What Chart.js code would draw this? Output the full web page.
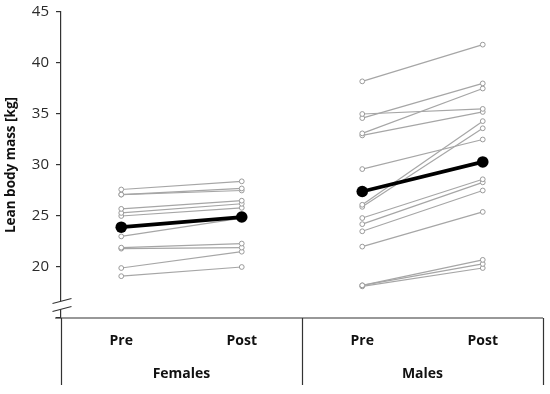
<!DOCTYPE html>
<html>
<head>
<meta charset="utf-8">
<script src="https://cdn.jsdelivr.net/npm/chart.js@4.4.1/dist/chart.umd.min.js"></script>
<style>
  html, body { margin: 0; padding: 0; background: #fff; }
  #wrap { width: 550px; height: 394px; }
</style>
</head>
<body>
<div id="wrap"><canvas id="lbm"></canvas></div>
<script>
// x categories (positions 0.5, 1.5, 2.5, 3.5 on a 0-4 scale)
const categories = ['Pre', 'Post', 'Pre', 'Post'];
const groups = ['Females', 'Males'];
const yTicks = [20, 25, 30, 35, 40, 45];

// individual subjects, lean body mass in kg
const femalePre  = [27.6, 27.1, 27.1, 25.7, 25.3, 25.0, 23.0, 21.9, 21.8, 19.9, 19.1];
const femalePost = [28.4, 27.7, 27.5, 26.5, 26.2, 25.8, 24.8, 22.3, 21.9, 21.5, 20.0];
const malePre  = [38.2, 35.0, 34.6, 33.1, 32.9, 29.6, 26.1, 25.9, 24.8, 24.2, 23.5, 22.0, 18.2, 18.2, 18.1];
const malePost = [41.8, 35.5, 38.0, 37.5, 35.2, 32.5, 34.3, 33.6, 28.6, 28.3, 27.5, 25.4, 20.7, 20.3, 19.9];

// group means [females, males]
const meanPre  = [23.9, 27.4];
const meanPost = [24.9, 30.3];

const textCol = '#2b2b2b';
const font = '"Open Sans", "DejaVu Sans", sans-serif';

function pair(xPre, pre, post) {
    return [{ x: xPre, y: pre }, { x: xPre + 1, y: post }];
}

const datasets = [];

// means first so they are drawn on top
meanPre.forEach((v, i) => {
    datasets.push({
        data: pair(i * 2 + 0.5, v, meanPost[i]),
        borderColor: '#000',
        backgroundColor: '#000',
        borderWidth: 3.8,
        pointRadius: 5.8,
        pointBorderWidth: 0
    });
});

function addSubjects(pre, post, xPre) {
    pre.forEach((v, i) => {
        datasets.push({
            data: pair(xPre, v, post[i]),
            borderColor: '#a6a6a6',
            backgroundColor: '#fff',
            borderWidth: 1.2,
            pointRadius: 2.4,
            pointBorderWidth: 1,
            pointBorderColor: '#9a9a9a'
        });
    });
}
addSubjects(femalePre, femalePost, 0.5);
addSubjects(malePre, malePost, 2.5);

// bottom table, axis extension and the axis break
const tablePlugin = {
    id: 'tablePlugin',
    afterDraw(chart) {
        const ctx = chart.ctx;
        const x = chart.scales.x;
        const area = chart.chartArea;
        const bottom = 385;
        const ax = Math.round(area.left) + 0.5;
        ctx.save();
        ctx.strokeStyle = '#333';
        ctx.lineWidth = 1.2;
        ctx.beginPath();
        // horizontal line
        ctx.moveTo(area.left - 6, area.bottom);
        ctx.lineTo(x.getPixelForValue(4), area.bottom);
        // y axis continues below the table line
        ctx.moveTo(ax, area.bottom);
        ctx.lineTo(ax, bottom);
        // verticals
        [2, 4].forEach(v => {
            const px = Math.round(x.getPixelForValue(v)) + 0.5;
            ctx.moveTo(px, area.bottom);
            ctx.lineTo(px, bottom);
        });
        ctx.stroke();

        // axis break
        const by = 304.5;
        ctx.fillStyle = '#fff';
        ctx.beginPath();
        ctx.moveTo(ax - 9, by - 1);
        ctx.lineTo(ax + 10, by - 6);
        ctx.lineTo(ax + 10, by + 2);
        ctx.lineTo(ax - 9, by + 7);
        ctx.closePath();
        ctx.fill();
        ctx.beginPath();
        ctx.lineWidth = 1.1;
        ctx.moveTo(ax - 9, by - 1);
        ctx.lineTo(ax + 10, by - 6);
        ctx.moveTo(ax - 9, by + 7);
        ctx.lineTo(ax + 10, by + 2);
        ctx.stroke();

        // labels
        ctx.fillStyle = '#111';
        ctx.font = 'bold 14px ' + font;
        ctx.textAlign = 'center';
        ctx.textBaseline = 'middle';
        categories.forEach((c, i) => {
            ctx.fillText(c, x.getPixelForValue(i + 0.5), 341);
        });
        groups.forEach((g, i) => {
            ctx.fillText(g, x.getPixelForValue(i * 2 + 1), 374);
        });
        ctx.restore();
    }
};

new Chart(document.getElementById('lbm'), {
    type: 'line',
    data: { datasets },
    plugins: [tablePlugin],
    options: {
        responsive: true,
        maintainAspectRatio: false,
        animation: false,
        layout: { padding: { top: 12, right: 7, bottom: 76, left: 0 } },
        plugins: { legend: { display: false }, tooltip: { enabled: false } },
        scales: {
            x: {
                type: 'linear',
                display: false,
                min: 0,
                max: 4
            },
            y: {
                min: 15,
                max: 45,
                afterBuildTicks: s => { s.ticks = [15].concat(yTicks).map(v => ({ value: v })); },
                afterFit: s => { s.width = 61; s.paddingTop = 0; s.paddingBottom = 0; },
                border: { color: '#333', width: 1.2 },
                grid: { drawOnChartArea: false, tickLength: 5, color: '#333', lineWidth: 1.2 },
                ticks: {
                    padding: 7,
                    color: textCol,
                    font: { family: font, size: 15 },
                    callback: v => (v === 15 ? '' : v)
                },
                title: {
                    display: true,
                    text: 'Lean body mass [kg]',
                    color: '#111',
                    font: { family: font, size: 13.5, weight: 'bold' },
                    padding: { top: 3, bottom: 0 }
                }
            }
        }
    }
});
</script>
</body>
</html>
